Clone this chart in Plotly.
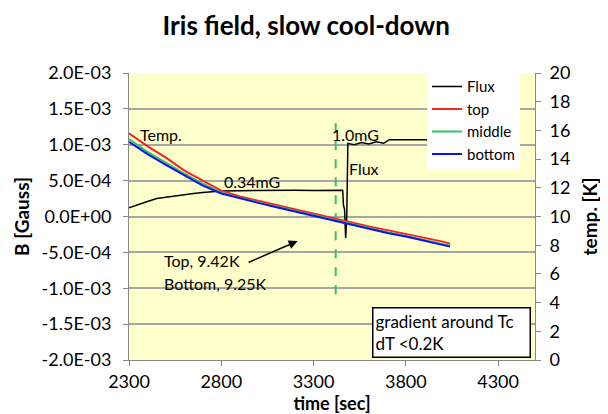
import plotly.graph_objects as go

# temperature sensors (right axis, K)
t_temp = [2300, 2400, 2500, 2600, 2700, 2800, 2900, 3000, 3100, 3200,
          3300, 3400, 3500, 3600, 3700, 3800, 3900, 4000, 4040]
temp_top = [15.8, 14.9, 14.1, 13.2, 12.5, 11.8, 11.4, 11.1, 10.8, 10.5,
            10.2, 9.88, 9.55, 9.3, 9.05, 8.8, 8.5, 8.25, 8.1]
temp_middle = [15.4, 14.5, 13.75, 12.98, 12.28, 11.68, 11.3, 11.0, 10.7, 10.4,
               10.1, 9.77, 9.45, 9.17, 8.9, 8.65, 8.36, 8.06, 7.96]
temp_bottom = [15.2, 14.35, 13.6, 12.85, 12.15, 11.6, 11.25, 10.95, 10.65, 10.35,
               10.05, 9.72, 9.4, 9.12, 8.85, 8.6, 8.3, 8.0, 7.9]

# flux gate (left axis, Gauss)
t_flux = [2300, 2350, 2400, 2450, 2500, 2550, 2600, 2650, 2700, 2750, 2800,
          2900, 3000, 3100, 3200, 3300, 3400, 3458, 3462, 3468, 3474, 3480,
          3486, 3520, 3560, 3600, 3640, 3680, 3710, 4040]
flux = [1.2e-4, 1.7e-4, 2.1e-4, 2.5e-4, 2.7e-4, 2.9e-4, 3.1e-4, 3.2e-4, 3.35e-4,
        3.45e-4, 3.55e-4, 3.6e-4, 3.65e-4, 3.62e-4, 3.66e-4, 3.64e-4, 3.65e-4,
        3.65e-4, 1.6e-4, 1.0e-4, -3.0e-4, 0.0, 1.02e-3, 1.0e-3, 1.03e-3,
        1.01e-3, 1.04e-3, 1.02e-3, 1.07e-3, 1.07e-3]

# Tc marker
t_tc = [3420, 3420]
b_tc = [1.3e-3, -1.15e-3]

b_ticks = [-2e-3, -1.5e-3, -1e-3, -5e-4, 0, 5e-4, 1e-3, 1.5e-3, 2e-3]
b_labels = ['-2.0E-03', '-1.5E-03', '-1.0E-03', '-5.0E-04', '0.0E+00',
            '5.0E-04', '1.0E-03', '1.5E-03', '2.0E-03']

FONT = 'Lato'
fig = go.Figure()

fig.add_trace(go.Scatter(x=t_flux, y=flux, name='Flux', mode='lines',
                         line=dict(color='black', width=1.5)))
fig.add_trace(go.Scatter(x=t_temp, y=temp_top, name='top', mode='lines', yaxis='y2',
                         line=dict(color='#FF2020', width=2)))
fig.add_trace(go.Scatter(x=t_temp, y=temp_middle, name='middle', mode='lines', yaxis='y2',
                         line=dict(color='#2EC46A', width=2)))
fig.add_trace(go.Scatter(x=t_temp, y=temp_bottom, name='bottom', mode='lines', yaxis='y2',
                         line=dict(color='#1010F0', width=2)))
fig.add_trace(go.Scatter(x=t_tc, y=b_tc, mode='lines', showlegend=False,
                         line=dict(color='#2EC46A', width=2, dash='dash')))

ann_font = dict(family=FONT, size=16, color='black')
notes = [
    (2348, 1.136e-3, 'Temp.'),
    (2805, 0.481e-3, '0.34mG'),
    (3391, 1.136e-3, '1.0mG'),
    (3483, 0.676e-3, 'Flux'),
    (2477, -0.62e-3, 'Top, 9.42K'),
    (2477, -0.927e-3, 'Bottom, 9.25K'),
]
for x, y, txt in notes:
    fig.add_annotation(x=x, y=y, text=txt, showarrow=False, xanchor='left',
                       yanchor='middle', font=ann_font)

fig.add_annotation(x=3214, y=-0.342e-3, ax=2940, ay=-0.648e-3, axref='x', ayref='y',
                   text='', showarrow=True, arrowhead=2, arrowsize=1.2,
                   arrowwidth=1.5, arrowcolor='black')

fig.add_annotation(x=3617, y=-1.261e-3, text='gradient around Tc<br>dT &lt;0.2K',
                   showarrow=False, xanchor='left', yanchor='top', align='left',
                   width=152, height=44, borderpad=2, bordercolor='black',
                   borderwidth=1.5, bgcolor='white',
                   font=dict(family=FONT, size=17, color='black'))

# page body adds an 8px offset, so the figure is 8px smaller each way
fig.update_layout(
    width=600, height=406,
    margin=dict(l=121, r=73, t=65, b=54),
    paper_bgcolor='white', plot_bgcolor='#FFFFCC',
    font=dict(family=FONT, size=18, color='black'),
    title=dict(text='<b>Iris field, slow cool-down</b>', x=0.497, xanchor='center',
               y=0.957, yanchor='middle', font=dict(family=FONT, size=26)),
    xaxis=dict(range=[2300, 4500], tick0=2300, dtick=500, showgrid=False,
               showline=True, linecolor='#888888', ticks='outside', ticklen=5,
               tickcolor='#888888', zeroline=False, automargin=False,
               title=dict(text='<b>time [sec]</b>', standoff=0, font=dict(size=18))),
    yaxis=dict(range=[-2e-3, 2e-3], tickvals=b_ticks, ticktext=b_labels,
               showgrid=True, gridcolor='#A6A6A6', gridwidth=1.5, zeroline=False,
               showline=True, linecolor='#888888', ticks='outside', ticklen=5,
               tickcolor='#888888', automargin=False, ticklabelstandoff=8,
               title=dict(text='<b>B [Gauss]</b>', standoff=6, font=dict(size=19))),
    yaxis2=dict(range=[0, 20], dtick=2, overlaying='y', side='right',
                showgrid=False, zeroline=False, showline=True, linecolor='#888888',
                ticks='outside', ticklen=5, tickcolor='#888888', automargin=False,
                ticklabelstandoff=5,
                title=dict(text='<b>temp. [K]</b>', standoff=14, font=dict(size=19))),
    legend=dict(x=0.734, xanchor='left', y=1.01, yanchor='top', bgcolor='white',
                borderwidth=0, itemwidth=30, font=dict(family=FONT, size=15)),
    showlegend=True,
)

fig.write_html('out.html')
